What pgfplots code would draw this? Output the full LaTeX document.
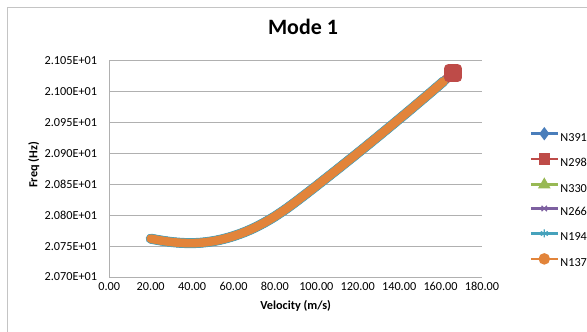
\documentclass[border=0pt]{standalone}
\usepackage{fontspec}
\setmainfont{Carlito}
\usepackage{pgfplots}
\usepackage{pgfplotstable}
\pgfplotsset{compat=1.18}

\definecolor{cBlue}{HTML}{4A7EBB}
\definecolor{cRed}{HTML}{BE4B48}
\definecolor{cGreen}{HTML}{98B954}
\definecolor{cPurple}{HTML}{7D60A0}
\definecolor{cAqua}{HTML}{46A2BC}
\definecolor{cOrange}{HTML}{E2843A}
\definecolor{gridgray}{HTML}{B0B0B0}
\definecolor{framegray}{HTML}{C4C4C4}

% Mode 1 frequency (Hz) against flow velocity (m/s) for six nodes
\pgfplotstableread{
v     N391    N298    N330    N266    N194    N137
20    20.7620 20.7620 20.7620 20.7620 20.7620 20.7620
25    20.7590 20.7590 20.7590 20.7590 20.7590 20.7590
30    20.7566 20.7566 20.7566 20.7566 20.7566 20.7566
35    20.7552 20.7552 20.7552 20.7552 20.7552 20.7552
40    20.7548 20.7548 20.7548 20.7548 20.7548 20.7548
45    20.7557 20.7557 20.7557 20.7557 20.7557 20.7557
50    20.7579 20.7579 20.7579 20.7579 20.7579 20.7579
55    20.7614 20.7614 20.7614 20.7614 20.7614 20.7614
60    20.7662 20.7662 20.7662 20.7662 20.7662 20.7662
65    20.7722 20.7722 20.7722 20.7722 20.7722 20.7722
70    20.7795 20.7795 20.7795 20.7795 20.7795 20.7795
75    20.7882 20.7882 20.7882 20.7882 20.7882 20.7882
80    20.7981 20.7981 20.7981 20.7981 20.7981 20.7981
85    20.8093 20.8093 20.8093 20.8093 20.8093 20.8093
90    20.8216 20.8216 20.8216 20.8216 20.8216 20.8216
95    20.8344 20.8344 20.8344 20.8344 20.8344 20.8344
100   20.8474 20.8474 20.8474 20.8474 20.8474 20.8474
105   20.8606 20.8606 20.8606 20.8606 20.8606 20.8606
110   20.8738 20.8738 20.8738 20.8738 20.8738 20.8738
115   20.8872 20.8872 20.8872 20.8872 20.8872 20.8872
120   20.9006 20.9006 20.9006 20.9006 20.9006 20.9006
125   20.9142 20.9142 20.9142 20.9142 20.9142 20.9142
130   20.9279 20.9279 20.9279 20.9279 20.9279 20.9279
135   20.9417 20.9417 20.9417 20.9417 20.9417 20.9417
140   20.9556 20.9556 20.9556 20.9556 20.9556 20.9556
145   20.9696 20.9696 20.9696 20.9696 20.9696 20.9696
150   20.9838 20.9838 20.9838 20.9838 20.9838 20.9838
155   20.9980 20.9980 20.9980 20.9980 20.9980 20.9980
160   21.0124 21.0124 21.0124 21.0124 21.0124 21.0124
161.5 21.0167 21.0167 21.0167 21.0167 21.0167 21.0167
164   nan     21.0239 nan     nan     nan     nan
166   nan     21.0298 nan     nan     nan     nan
}\modeone

\newcommand{\tickfont}{\fontsize{12.3}{14}\selectfont}

\begin{document}
\begin{tikzpicture}
\path[use as bounding box] (0bp,0bp) rectangle (587bp,332bp);
% chart frame
\draw[framegray, line width=1bp] (7.5bp,-5bp) -- (7.5bp,324.5bp) -- (600bp,324.5bp);

\begin{axis}[
  at={(109.3bp,55bp)}, anchor=south west,
  width=372.7bp, height=216.3bp, scale only axis,
  xmin=0, xmax=180, ymin=20.70, ymax=21.05,
  xtick={0,20,40,60,80,100,120,140,160,180},
  xticklabels={0.00,20.00,40.00,60.00,80.00,100.00,120.00,140.00,160.00,180.00},
  ytick={20.70,20.75,20.80,20.85,20.90,20.95,21.00,21.05},
  yticklabels={2.070E+01,2.075E+01,2.080E+01,2.085E+01,2.090E+01,2.095E+01,2.100E+01,2.105E+01},
  ymajorgrids, grid style={gridgray, line width=1bp},
  axis x line*=bottom, axis y line*=left,
  axis line style={gridgray, line width=1bp, -},
  major tick length=0pt,
  tick label style={font=\tickfont, inner sep=0pt},
  xticklabel style={yshift=-5bp},
  yticklabel style={xshift=-12bp},
  title={Mode 1},
  title style={font=\bfseries\fontsize{22}{26}\selectfont, at={(axis description cs:0.5197,1.0957)}, anchor=base},
  xlabel={Velocity (m/s)},
  xlabel style={font=\bfseries\tickfont, at={(axis description cs:0.5,-0.1503)}, anchor=base},
  ylabel={Freq (Hz)},
  ylabel style={font=\bfseries\tickfont, at={(axis description cs:-0.1927,0.518)}, anchor=base},
  legend image code/.code={\draw[mark repeat=2,mark phase=2,#1,yshift=3.9bp] plot coordinates {(0bp,0bp) (13.5bp,0bp) (27bp,0bp)};},
  legend style={at={(axis description cs:1.1269,0.6847)}, anchor=north west,
    draw=none, fill=none, inner sep=0pt, font=\tickfont,
    row sep=11.6bp, column sep=1.3bp,
    nodes={inner sep=0pt, text height=9bp, text depth=2bp}},
  legend cell align=left,
]
\addplot[cBlue,   line width=9bp,  smooth, line cap=round, line join=round, forget plot] table[x=v,y=N391]{\modeone};
\addplot[cRed,    line width=9bp,  smooth, line join=round, mark=square*, mark indices={32}, mark size=4.6bp, mark options={solid}, forget plot] table[x=v,y=N298]{\modeone};
\addplot[cGreen,  line width=9bp,  smooth, line cap=round, line join=round, forget plot] table[x=v,y=N330]{\modeone};
\addplot[cPurple, line width=9bp,  smooth, line cap=round, line join=round, forget plot] table[x=v,y=N266]{\modeone};
\addplot[cAqua,   line width=10bp, smooth, line cap=round, line join=round, forget plot] table[x=v,y=N194]{\modeone};
\addplot[cOrange, line width=8.6bp, smooth, line cap=round, line join=round, forget plot] table[x=v,y=N137]{\modeone};

\addlegendimage{cBlue, line width=2.6bp, mark=diamond*, mark size=4.6bp, mark options={solid}}
\addlegendentry{N391}
\addlegendimage{cRed, line width=2.6bp, mark=square*, mark size=4.3bp, mark options={solid}}
\addlegendentry{N298}
\addlegendimage{cGreen, line width=2.6bp, mark=triangle*, mark size=4.8bp, mark options={solid}}
\addlegendentry{N330}
\addlegendimage{cPurple, line width=2.6bp, mark=x, mark size=3.8bp, mark options={solid, line width=1.2bp}}
\addlegendentry{N266}
\addlegendimage{cAqua, line width=2.6bp, mark=asterisk, mark size=4bp, mark options={solid, line width=1.2bp}}
\addlegendentry{N194}
\addlegendimage{cOrange, line width=2.6bp, mark=*, mark size=4.4bp, mark options={solid}}
\addlegendentry{N137}
\end{axis}
\end{tikzpicture}
\end{document}
